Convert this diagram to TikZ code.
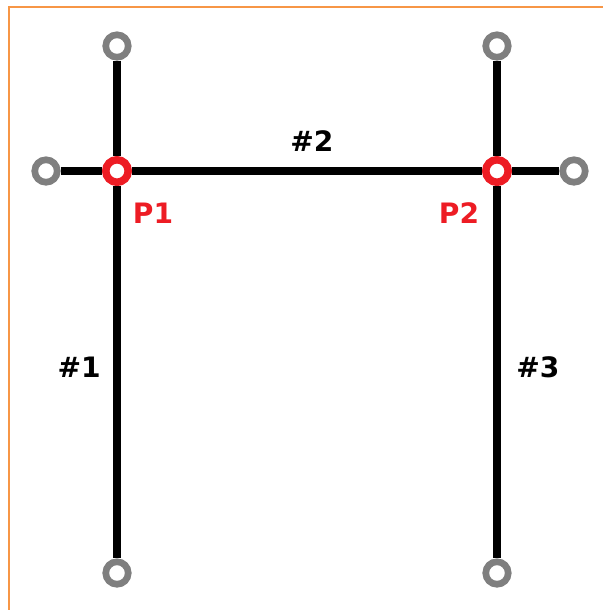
\documentclass[tikz,border=0pt]{standalone}
\usepackage{fontspec}
\setmainfont{DejaVu Sans}
\usetikzlibrary{positioning}
\definecolor{pinred}{RGB}{237,28,36}
\definecolor{endgrey}{RGB}{127,127,127}
\definecolor{frameorange}{RGB}{247,150,70}

\begin{document}
\begin{tikzpicture}[
    x=0.02cm, y=-0.02cm,
    endpt/.style={circle, draw=endgrey, line width=3.8pt, fill=white, inner sep=0pt, minimum size=0.45cm},
    joint/.style={circle, draw=pinred, line width=4.3pt, fill=white, inner sep=0pt, minimum size=0.45cm},
    wire/.style={line width=4pt, black},
    lbl/.style={font=\fontsize{16}{19}\selectfont\bfseries}
]
\useasboundingbox (0,0) rectangle (603,610);

% frame (top and left edge only)
\draw[frameorange, line width=1.15pt] (9,610) -- (9,7) -- (603,7);

% === JOINTS ===
\node[joint] (p1) at (117,171) {};
\node[joint] (p2) at (497,171) {};

% === FREE ENDS ===
\node[endpt] (t1) at (117,46) {};
\node[endpt] (t2) at (497,46) {};
\node[endpt] (l1) at (46,171) {};
\node[endpt] (r2) at (574,171) {};
\node[endpt] (b1) at (117,573) {};
\node[endpt] (b2) at (497,573) {};

% Members
\draw[wire] (t1) -- (p1);
\draw[wire] (l1) -- (p1);
\draw[wire] (p2) -- (r2);
\draw[wire] (t2) -- (p2);
\draw[wire] (p1) -- (b1) node[midway, left=0.14cm, yshift=0.1cm, lbl] (m1) {\#1};
\draw[wire] (p1) -- (p2) node[midway, above=0.2cm, xshift=0.1cm, lbl] (m2) {\#2};
\draw[wire] (p2) -- (b2) node[midway, right=0.2cm, yshift=0.1cm, lbl] (m3) {\#3};

% Joint labels
\node[lbl, pinred] (p1lbl) at ([shift={(36,42)}]p1) {P1};
\node[lbl, pinred] (p2lbl) at ([shift={(-38,42)}]p2) {P2};

\end{tikzpicture}
\end{document}
